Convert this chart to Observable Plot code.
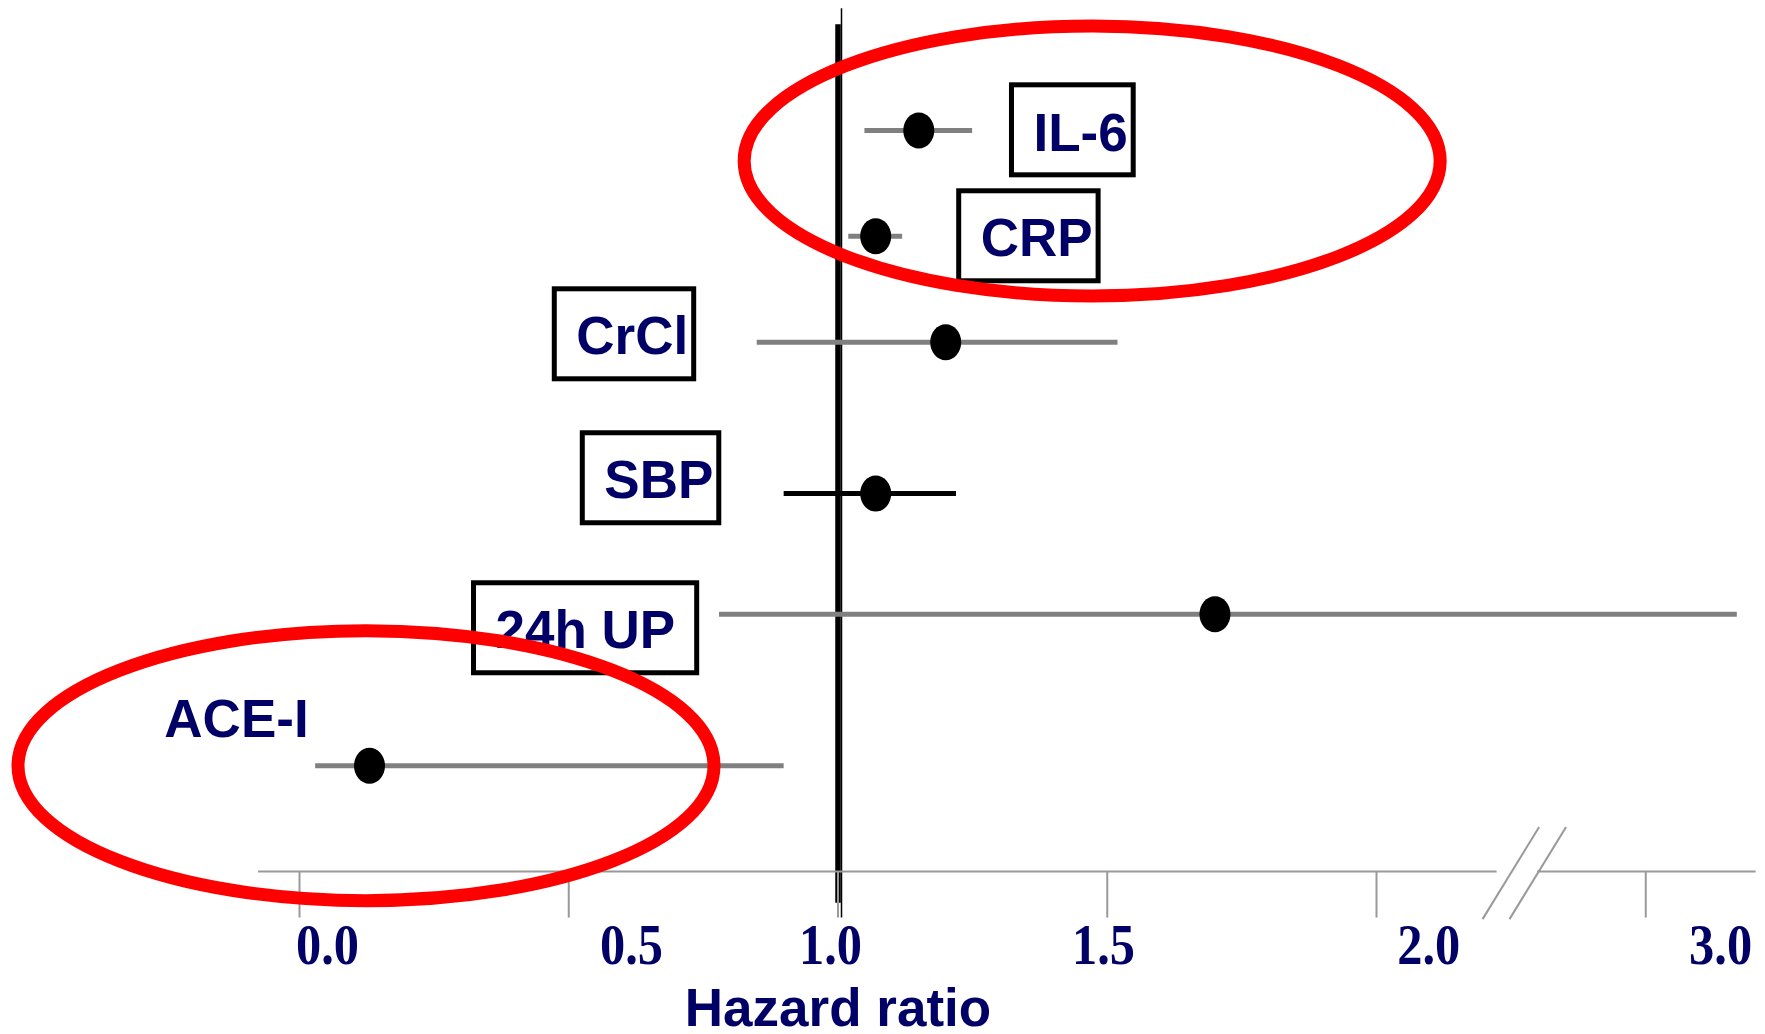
<!DOCTYPE html>
<html>
<head>
<meta charset="utf-8">
<script src="https://cdn.jsdelivr.net/npm/d3@7"></script>
<script src="https://cdn.jsdelivr.net/npm/@observablehq/plot@0.6"></script>
<style>
  html, body { margin: 0; padding: 0; background: #fff; }
  #chart svg { display: block; }
</style>
</head>
<body>
<div id="chart"></div>
<script>
// ---------------- data ----------------
const factors      = ["IL-6", "CRP", "CrCl", "SBP", "24h UP", "ACE-I"];
const hazardRatio  = [1.15, 1.07, 1.20, 1.07, 1.70, 0.13];
const ciLow        = [1.05, 1.02, 0.85, 0.90, 0.78, 0.03];
const ciHigh       = [1.25, 1.12, 1.52, 1.22, 3.34, 0.90];
const rowIndex     = [0, 1, 2, 3.43, 4.57, 6];          // vertical slot of each factor
const tickValues   = [0, 0.5, 1, 1.5, 2, 3];
const tickLabels   = ["0.0", "0.5", "1.0", "1.5", "2.0", "3.0"];
const xTitle       = "Hazard ratio";

// ---------------- layout / styles ----------------
const NAVY = "#000066";
const ciColor      = ["#808080", "#808080", "#808080", "#000000", "#808080", "#808080"];
const labelX       = [1.363, 1.265, 0.514, 0.566, 0.364, -0.251];   // text start (axis units)
const labelRow     = [0.189, 1.190, 2.116, 3.476, 4.893, 5.725];    // text baseline (row units)
const labelBoxed   = [true, true, true, true, true, false];
const labelPadR    = [5.5, 5.5, 5.5, 5.5, 21.5, 0];
const tickLabelX   = [0.052, 0.6165, 0.986, 1.493, 2.097, 2.639];
const axisSegments = [[-0.076, 2.224], [2.299, 2.705]];
const breakMarks   = [[2.302, 2.197], [2.352, 2.247]];
const circledX     = [1.472, 0.1235];
const circledRow   = [0.288, 6.0];

// axis break: values above 2 are compressed (3.0 sits where 2.5 would be)
const brk = v => v <= 2 ? v : 2 + (v - 2) / 2;

const rows = factors.map((f, i) => ({
  f, hr: hazardRatio[i], lo: ciLow[i], hi: ciHigh[i], row: rowIndex[i], color: ciColor[i]
}));
const labels = factors.map((f, i) => ({
  text: f, x: labelX[i], row: labelRow[i], boxed: labelBoxed[i], padR: labelPadR[i]
}));
const circled = circledX.map((x, i) => ({x, row: circledRow[i]}));

const ellipseSymbol = aspect => ({
  draw(ctx, size) {
    const rx = Math.sqrt(size / Math.PI), ry = rx * aspect, k = 0.5522847498;
    ctx.moveTo(rx, 0);
    ctx.bezierCurveTo(rx, ry * k, rx * k, ry, 0, ry);
    ctx.bezierCurveTo(-rx * k, ry, -rx, ry * k, -rx, 0);
    ctx.bezierCurveTo(-rx, -ry * k, -rx * k, -ry, 0, -ry);
    ctx.bezierCurveTo(rx * k, -ry, rx, -ry * k, rx, 0);
    ctx.closePath();
  }
});

const sans = "'Liberation Sans', Arial, Helvetica, sans-serif";
const serif = "'Liberation Serif', 'Times New Roman', serif";

const svg = Plot.plot({
  width: 1765,
  height: 1034,
  style: {background: "white", overflow: "visible"},
  x: {domain: [0, 2.5], range: [299, 1645.25], axis: null},
  y: {domain: [0, 7], range: [130, 871], axis: null},
  marks: [
    // reference line at HR = 1
    Plot.ruleX([1], {y1: -1.15, y2: 7.44, dx: 3.5, stroke: "black", strokeWidth: 1.5}),
    Plot.ruleX([1], {y1: -1.0, y2: 7.3, stroke: "black", strokeWidth: 5.5}),
    // x axis line with break
    Plot.ruleY(axisSegments, {y: () => 7, x1: d => d[0], x2: d => d[1], stroke: "#999999", strokeWidth: 2}),
    Plot.ruleX(tickValues, {x: brk, y1: 7, y2: 7.44, stroke: "#999999", strokeWidth: 2}),
    Plot.link(breakMarks, {x1: d => d[0], y1: () => 6.58, x2: d => d[1], y2: () => 7.45, stroke: "#999999", strokeWidth: 2}),
    Plot.text(tickLabels, {
      x: (d, i) => tickLabelX[i], y: () => 7.87, text: d => d,
      lineAnchor: "bottom", textAnchor: "middle",
      fontFamily: serif, fontWeight: "bold", fontSize: 56, fill: NAVY
    }),
    Plot.text([xTitle], {
      x: () => 1.0, y: () => 8.46, text: d => d,
      lineAnchor: "bottom", textAnchor: "middle",
      fontFamily: sans, fontWeight: "bold", fontSize: 53, fill: NAVY
    }),
    // confidence intervals
    Plot.ruleY(rows, {y: "row", x1: d => brk(d.lo), x2: d => brk(d.hi), stroke: d => d.color, strokeWidth: 5}),
    // point estimates
    Plot.dot(rows, {x: d => brk(d.hr), y: "row", r: 15.5, symbol: ellipseSymbol(18 / 15.5), fill: "black", stroke: "none"}),
    // factor labels
    Plot.text(labels, {
      x: "x", y: "row", text: "text",
      lineAnchor: "bottom", textAnchor: "start",
      fontFamily: sans, fontWeight: "bold", fontSize: 53, fill: NAVY
    }),
    // red circling annotations
    Plot.dot(circled, {x: "x", y: "row", r: 348, symbol: ellipseSymbol(135 / 348), fill: "none", stroke: "#ff0000", strokeWidth: 13})
  ]
});

document.getElementById("chart").append(svg);

const NS = "http://www.w3.org/2000/svg";
for (const t of svg.querySelectorAll("text")) {
  // narrow the serif tick labels horizontally, like the original typeface
  if (tickLabels.includes(t.textContent)) {
    const b = t.getBBox();
    const cx = b.x + b.width / 2;
    const tr = t.getAttribute("transform") || "";
    t.setAttribute("transform", `${tr} translate(${cx},0) scale(0.9,1) translate(${-cx},0)`);
    continue;
  }
  // boxes around labels, sized from the rendered text
  const lab = labels.find(l => l.boxed && l.text === t.textContent);
  if (!lab) continue;
  const b = t.getBBox();
  const baseline = b.y + b.height * (0.905 / 1.117);
  const r = document.createElementNS(NS, "rect");
  r.setAttribute("x", b.x - 22);
  r.setAttribute("y", baseline - 65.5);
  r.setAttribute("width", b.width + 22 + lab.padR);
  r.setAttribute("height", 90);
  r.setAttribute("fill", "white");
  r.setAttribute("stroke", "black");
  r.setAttribute("stroke-width", 5);
  if (t.getAttribute("transform")) r.setAttribute("transform", t.getAttribute("transform"));
  t.parentNode.insertBefore(r, t);
}
</script>
</body>
</html>
